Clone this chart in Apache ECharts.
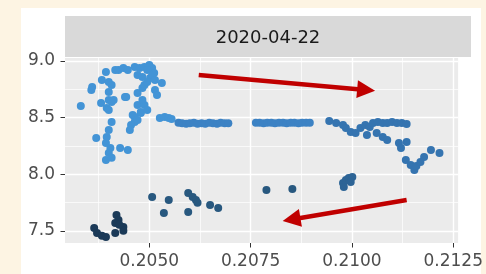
<!DOCTYPE html>
<html><head><meta charset="utf-8">
<script src="https://cdn.jsdelivr.net/npm/echarts@6/dist/echarts.min.js"></script>
<style>html,body{margin:0;padding:0;background:#fdf4e3;}#c{width:486px;height:274px;}</style>
</head><body><div id="c"></div>
<script>
const panelTitle = '2020-04-22';
const xTicks = [0.2050, 0.2075, 0.2100, 0.2125];
const xMinor = [0.20375, 0.20625, 0.20875, 0.21125];
const yTicks = [7.5, 8.0, 8.5, 9.0];
const yMinor = [7.75, 8.25, 8.75];
const xRange = [0.20292, 0.21262];
const yRange = [7.394, 9.026];

const upperPts = [
 [0.20331,8.603],[0.20359,8.771],[0.20357,8.744],[0.20383,8.832],[0.20393,8.903],[0.20400,8.815],
 [0.20407,8.788],[0.20400,8.727],[0.20381,8.630],[0.20400,8.656],[0.20407,8.638],[0.20395,8.585],
 [0.20424,8.921],[0.20436,8.938],[0.20447,8.921],[0.20464,8.947],[0.20476,8.938],[0.20488,8.947],
 [0.20500,8.965],[0.20507,8.938],[0.20512,8.894],[0.20471,8.877],[0.20483,8.859],[0.20502,8.850],
 [0.20440,8.682],[0.20471,8.718],[0.20483,8.762],[0.20488,8.788],[0.20514,8.744],[0.20471,8.612],
 [0.20488,8.612],[0.20479,8.541],[0.20464,8.506],[0.20464,8.462],[0.20526,8.497],[0.20407,8.462],
 [0.20400,8.568],[0.20479,8.550],[0.20455,8.436],[0.20452,8.391],[0.20538,8.506],[0.20400,8.391],
 [0.20395,8.330],[0.20369,8.321],[0.20393,8.277],[0.20404,8.233],[0.20400,8.189],[0.20393,8.127],
 [0.20407,8.145],[0.20428,8.233],[0.20447,8.215],[0.20495,8.921],[0.20507,8.877],[0.20495,8.815],
 [0.20514,8.832],[0.20519,8.700],[0.20483,8.656],[0.20495,8.568],[0.20459,8.524],[0.20471,8.480],
 [0.20531,8.806],[0.20548,8.497],[0.20555,8.488],[0.20416,8.920],[0.20443,8.682],[0.20412,8.656]
];
const flatPts = [
 [0.20572,8.455],[0.20581,8.450],[0.20591,8.445],[0.20600,8.450],[0.20610,8.455],[0.20619,8.445],
 [0.20629,8.450],[0.20638,8.445],[0.20648,8.455],[0.20657,8.450],[0.20667,8.445],[0.20676,8.455],
 [0.20686,8.450],[0.20695,8.450],
 [0.20763,8.455],[0.20772,8.455],[0.20782,8.450],[0.20791,8.455],[0.20801,8.455],[0.20810,8.450],
 [0.20820,8.455],[0.20830,8.455],[0.20839,8.450],[0.20849,8.455],[0.20858,8.455],[0.20868,8.450],
 [0.20877,8.455],[0.20887,8.455],[0.20896,8.455]
];
const rightPts = [
 [0.20944,8.471],[0.20961,8.453],[0.20978,8.436],[0.20985,8.409],[0.20997,8.374],[0.21009,8.365],
 [0.21021,8.409],[0.21033,8.436],[0.21044,8.418],[0.21052,8.453],[0.21064,8.462],[0.21076,8.453],
 [0.21087,8.453],[0.21099,8.462],[0.21111,8.453],[0.21123,8.453],[0.21135,8.444],[0.21037,8.347],
 [0.21061,8.365],[0.21076,8.330],[0.21087,8.303],[0.21116,8.277],[0.21121,8.233],[0.21135,8.286],
 [0.21133,8.127],[0.21145,8.083],[0.21154,8.039],[0.21159,8.074],[0.21169,8.109],[0.21178,8.153],
 [0.21195,8.215],[0.21216,8.189]
];
const midPts = [
 [0.20978,7.924],[0.20985,7.950],[0.20980,7.889],[0.20992,7.968],[0.21001,7.977],[0.20997,7.933]
];
const lowerPts = [
 [0.20507,7.800],[0.20548,7.774],[0.20536,7.659],[0.20596,7.836],[0.20607,7.800],[0.20615,7.774],
 [0.20619,7.748],[0.20596,7.668],[0.20650,7.730],[0.20670,7.703],[0.20789,7.862],[0.20853,7.871]
];
const bottomPts = [
 [0.20364,7.527],[0.20371,7.483],[0.20383,7.457],[0.20393,7.448],[0.20416,7.483],[0.20419,7.642],
 [0.20424,7.598],[0.20416,7.571],[0.20436,7.536],[0.20436,7.501],[0.20426,7.554]
];
const arrows = [
 [[0.20622,8.877],[0.21035,8.744]],
 [[0.21135,7.774],[0.20851,7.602]]
];

const chart = echarts.init(document.getElementById('c'));
const font = 'DejaVu Sans';
const R = 4;
function pts(data, color){
  return {type:'custom', data:data, z:3, silent:true, clip:true,
    encode:{x:0, y:1},
    renderItem:function(params, api){
      const p = api.coord([api.value(0), api.value(1)]);
      return {type:'circle', shape:{cx:p[0], cy:p[1], r:R}, style:{fill:color, stroke:null, lineWidth:0}};
    }};
}
chart.setOption({
  animation:false,
  backgroundColor:'#fdf4e3',
  graphic:[
    {type:'rect', shape:{x:21,y:8,width:460,height:266}, style:{fill:'#ffffff'}, z:-10},
    {type:'rect', shape:{x:65,y:16,width:406,height:41}, style:{fill:'#d9d9d9'}, z:-5},
    {type:'text', x:268, y:38, style:{text:panelTitle, fill:'#1a1a1a', font:'18px "DejaVu Sans"', align:'center', verticalAlign:'middle'}, z:5}
  ],
  grid:{left:65, right:15, top:58, bottom:31, show:true, backgroundColor:'#ebebeb', borderWidth:0},
  xAxis:[
    {type:'value', min:xRange[0], max:xRange[1],
     axisLine:{show:false},
     axisTick:{show:true, customValues:xTicks, length:4.5, lineStyle:{color:'#333333', width:1}},
     axisLabel:{customValues:xTicks, formatter:v=>v.toFixed(4), color:'#4d4d4d', fontSize:17, fontFamily:font, margin:10},
     splitLine:{show:true, lineStyle:{color:'#ffffff', width:1.4}}},
    {type:'value', min:xRange[0], max:xRange[1], position:'bottom',
     axisLine:{show:false}, axisTick:{show:false, customValues:xMinor}, axisLabel:{show:false, customValues:xMinor},
     splitLine:{show:true, lineStyle:{color:'#ffffff', width:0.7}}}
  ],
  yAxis:[
    {type:'value', min:yRange[0], max:yRange[1],
     axisLine:{show:false},
     axisTick:{show:true, customValues:yTicks, length:4.5, lineStyle:{color:'#333333', width:1}},
     axisLabel:{customValues:yTicks, formatter:v=>v.toFixed(1), color:'#4d4d4d', fontSize:17, fontFamily:font, margin:10},
     splitLine:{show:true, lineStyle:{color:'#ffffff', width:1.4}}},
    {type:'value', min:yRange[0], max:yRange[1], position:'left',
     axisLine:{show:false}, axisTick:{show:false, customValues:yMinor}, axisLabel:{show:false, customValues:yMinor},
     splitLine:{show:true, lineStyle:{color:'#ffffff', width:0.7}}}
  ],
  series:[
    pts(upperPts,'#4394d6'),
    pts(flatPts,'#3c82c4'),
    pts(rightPts,'#3574b0'),
    pts(midPts,'#2d6496'),
    pts(lowerPts,'#28587f'),
    pts(bottomPts,'#1b3a58'),
    {type:'lines', coordinateSystem:'cartesian2d', silent:true, z:4,
     symbol:['none','triangle'], symbolSize:[0,18],
     lineStyle:{color:'#c00000', width:4.5, opacity:1},
     data:arrows.map(a=>({coords:a}))}
  ]
});
</script></body></html>
